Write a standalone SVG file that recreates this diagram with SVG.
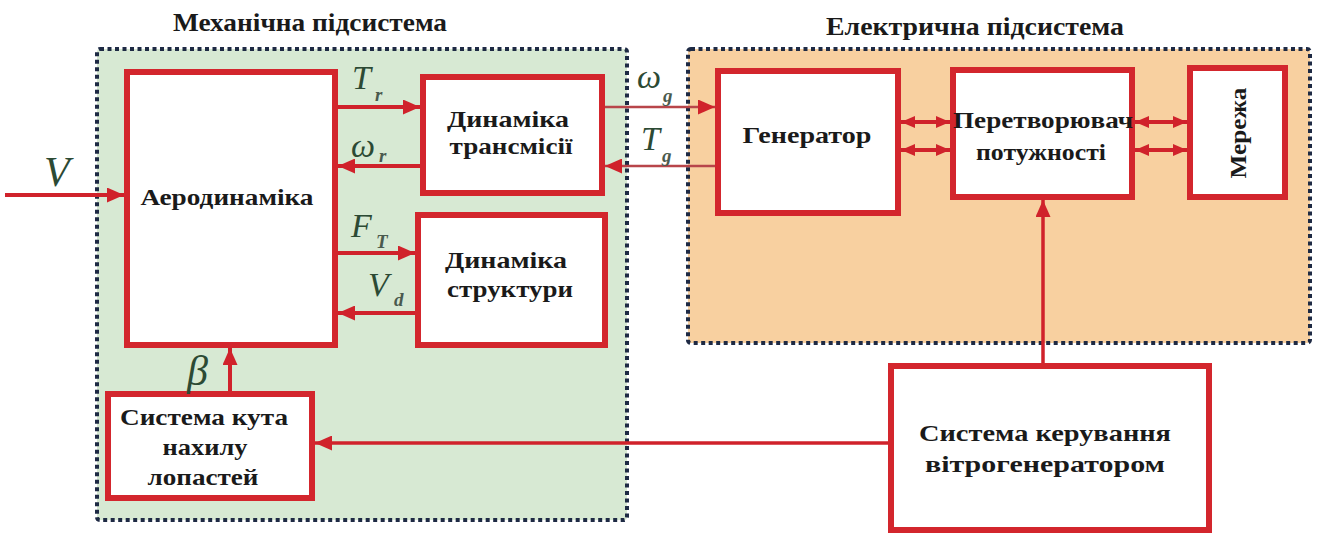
<svg xmlns="http://www.w3.org/2000/svg" width="1325" height="534" viewBox="0 0 1325 534">
<style>
.box{fill:#ffffff;stroke:#d3262d;stroke-width:6}
.sub{stroke:#1e2a44;stroke-width:4;stroke-dasharray:4 3.5}
.t{font-family:"Liberation Serif","Times New Roman",serif;font-weight:bold;fill:#1a1a1a;text-anchor:middle}
.title{font-size:25px}
.lbl{font-size:23px}
.m{font-family:"Liberation Serif","Times New Roman",serif;font-style:italic;fill:#2c4a34}
.big{font-size:34px}
.huge{font-size:42px}
.sm{font-size:19px;font-weight:bold;fill:#4a5a4e}
.ar{stroke:#d0222b;stroke-width:4;fill:none}
.thin{stroke:#b8454a;stroke-width:2.5;fill:none}
.ctl{stroke:#d0222b;stroke-width:3.5;fill:none}
</style>
<defs>
<marker id="ah" markerWidth="17" markerHeight="15" refX="17" refY="7.5" orient="auto" markerUnits="userSpaceOnUse"><path d="M0,0 L17,7.5 L0,15 z" fill="#d0222b"/></marker>
<marker id="ahs" markerWidth="14" markerHeight="12" refX="14" refY="6" orient="auto-start-reverse" markerUnits="userSpaceOnUse"><path d="M0,0 L14,6 L0,12 z" fill="#d0222b"/></marker>
</defs>
<rect width="1325" height="534" fill="#ffffff"/>

<g id="mech-subsystem">
<rect class="sub" x="97" y="49" width="530" height="471" rx="3" fill="#d7e9d3"/>
<text class="t title" x="310" y="31" textLength="274" lengthAdjust="spacingAndGlyphs">Механічна підсистема</text>
</g>
<g id="elec-subsystem">
<rect class="sub" x="688" y="49" width="622" height="294" rx="3" fill="#f8d0a0"/>
<text class="t title" x="975" y="35" textLength="298" lengthAdjust="spacingAndGlyphs">Електрична підсистема</text>
</g>

<g id="aero">
<rect class="box" x="127" y="72" width="208" height="273"/>
<text class="t lbl" x="227" y="205" textLength="173" lengthAdjust="spacingAndGlyphs">Аеродинаміка</text>
</g>
<g id="transmission">
<rect class="box" x="423" y="77" width="179" height="116"/>
<text class="t lbl" x="508" y="127" textLength="122" lengthAdjust="spacingAndGlyphs">Динаміка</text>
<text class="t lbl" x="511" y="154" textLength="123" lengthAdjust="spacingAndGlyphs">трансмісії</text>
</g>
<g id="structure">
<rect class="box" x="418" y="215" width="187" height="130"/>
<text class="t lbl" x="506" y="268" textLength="122" lengthAdjust="spacingAndGlyphs">Динаміка</text>
<text class="t lbl" x="510" y="297" textLength="126" lengthAdjust="spacingAndGlyphs">структури</text>
</g>
<g id="pitch">
<rect class="box" x="108" y="394" width="204" height="104"/>
<text class="t lbl" x="204" y="425" textLength="168" lengthAdjust="spacingAndGlyphs">Система кута</text>
<text class="t lbl" x="205" y="455" textLength="85" lengthAdjust="spacingAndGlyphs">нахилу</text>
<text class="t lbl" x="203" y="485" textLength="111" lengthAdjust="spacingAndGlyphs">лопастей</text>
</g>
<g id="generator">
<rect class="box" x="718" y="71" width="180" height="142"/>
<text class="t lbl" x="807" y="143" textLength="129" lengthAdjust="spacingAndGlyphs">Генератор</text>
</g>
<g id="converter">
<rect class="box" x="953" y="70" width="179" height="127"/>
<text class="t lbl" x="1043" y="128" textLength="180" lengthAdjust="spacingAndGlyphs">Перетворювач</text>
<text class="t lbl" x="1041" y="160" textLength="130" lengthAdjust="spacingAndGlyphs">потужності</text>
</g>
<g id="grid">
<rect class="box" x="1190" y="68" width="95" height="129"/>
<text class="t lbl" x="0" y="0" transform="translate(1246,133) rotate(-90)" textLength="91" lengthAdjust="spacingAndGlyphs">Мережа</text>
</g>
<g id="controller">
<rect class="box" x="891" y="366" width="318" height="164"/>
<text class="t lbl" x="1045" y="441" textLength="252" lengthAdjust="spacingAndGlyphs">Система керування</text>
<text class="t lbl" x="1045" y="472" textLength="240" lengthAdjust="spacingAndGlyphs">вітрогенератором</text>
</g>

<g id="connectors">
<line class="ar" x1="5" y1="195" x2="124" y2="195" marker-end="url(#ah)"/>
<line class="ar" x1="338" y1="107" x2="420" y2="107" marker-end="url(#ah)"/>
<line class="ar" x1="420" y1="166" x2="338" y2="166" marker-end="url(#ah)"/>
<line class="thin" x1="605" y1="107" x2="715" y2="107" marker-end="url(#ah)"/>
<line class="thin" x1="715" y1="166" x2="605" y2="166" marker-end="url(#ah)"/>
<line class="ar" x1="338" y1="253" x2="415" y2="253" marker-end="url(#ah)"/>
<line class="ar" x1="415" y1="313" x2="338" y2="313" marker-end="url(#ah)"/>
<line class="ar" x1="230" y1="391" x2="230" y2="348" marker-end="url(#ah)"/>
<line class="ctl" x1="888" y1="443" x2="315" y2="443" marker-end="url(#ah)"/>
<line class="ctl" x1="1043" y1="363" x2="1043" y2="200" marker-end="url(#ah)"/>
<line class="ar" x1="901" y1="122" x2="950" y2="122" marker-start="url(#ahs)" marker-end="url(#ahs)"/>
<line class="ar" x1="901" y1="150" x2="950" y2="150" marker-start="url(#ahs)" marker-end="url(#ahs)"/>
<line class="ar" x1="1135" y1="122" x2="1187" y2="122" marker-start="url(#ahs)" marker-end="url(#ahs)"/>
<line class="ar" x1="1135" y1="150" x2="1187" y2="150" marker-start="url(#ahs)" marker-end="url(#ahs)"/>
</g>

<g id="labels">
<text class="m huge" x="44" y="186">V</text>
<text class="m big" x="352" y="89">T</text><text class="m sm" x="375" y="101">r</text>
<text class="m big" x="351" y="157">ω</text><text class="m sm" x="379" y="162">r</text>
<text class="m big" x="637" y="88">ω</text><text class="m sm" x="663" y="102">g</text>
<text class="m big" x="641" y="150">T</text><text class="m sm" x="662" y="162">g</text>
<text class="m big" x="351" y="237">F</text><text class="m sm" x="376" y="248">T</text>
<text class="m big" x="368" y="296">V</text><text class="m sm" x="394" y="306">d</text>
<text class="m huge" x="187" y="385">β</text>
</g>
</svg>
